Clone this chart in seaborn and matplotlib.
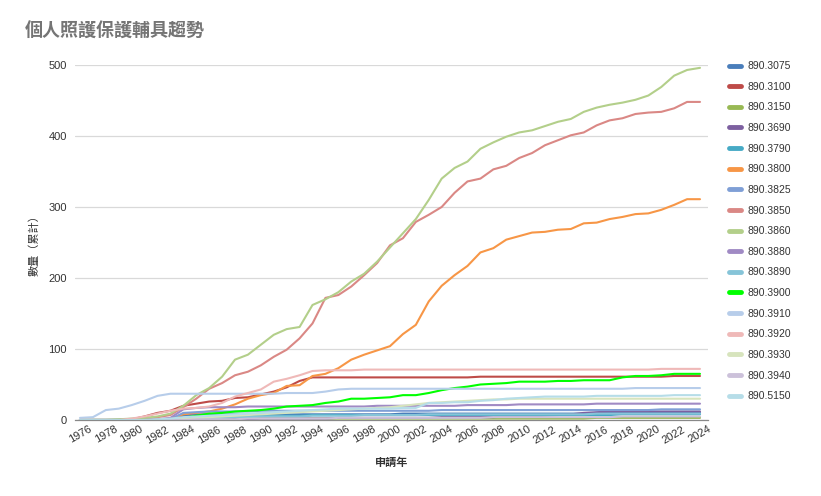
import numpy as np
import pandas as pd
import matplotlib
matplotlib.use("Agg")
import matplotlib.pyplot as plt
import seaborn as sns
from matplotlib.lines import Line2D

years = list(range(1976, 2025))

s3075 = [0,0,0,0,0,0,0,1,6,8, 8,8,8,8,8,8,8,8,8,8, 8,8,8,8,8,9,9,9,9,9, 9,9,9,9,9,9,9,9,9,9, 10,10,10,10,10,10,10,10,10]
s3100 = [0,0,0,0,1,5,10,13,20,23, 26,27,31,32,36,40,46,55,60,60, 60,60,60,60,60,60,60,60,60,60, 60,61,61,61,61,61,61,61,61,61, 61,61,61,61,61,61,62,62,62]
s3150 = [0,0,0,0,0,0,0,0,1,1, 1,1,2,2,2,2,2,2,2,2, 2,2,2,2,2,2,2,2,2,2, 2,2,2,2,2,2,2,2,2,2, 3,3,3,3,3,3,3,3,3]
s3690 = [0,0,0,0,0,0,0,0,0,1, 1,1,1,1,2,2,2,2,2,2, 3,3,3,3,3,3,3,3,4,4, 4,4,4,5,5,5,6,7,8,10, 11,12,12,12,12,12,12,12,12]
s3790 = [0,0,0,0,0,0,0,0,2,4, 5,5,6,6,6,6,6,6,7,7, 7,7,7,7,7,7,7,7,7,7, 7,7,7,7,7,7,7,7,7,7, 7,7,8,8,8,8,8,8,8]
s3800 = [0,0,0,0,0,0,0,2,8,10, 12,16,22,30,35,38,48,49,62,65, 73,85,92,98,104,121,134,167,189,204, 217,236,242,254,259,264,265,268,269,277, 278,283,286,290,291,296,303,311,311]
s3825 = [0,0,0,0,0,0,0,1,10,11, 12,12,12,12,13,13,13,13,13,13, 13,13,13,13,13,13,13,13,14,14, 14,14,14,14,14,14,14,14,14,14, 14,14,14,14,14,15,15,15,15]
s3850 = [0,0,0,0,1,2,4,7,18,30, 44,52,63,68,77,89,99,115,136,172, 176,188,204,221,246,256,279,289,300,320, 336,340,353,358,369,376,387,394,401,405, 415,422,425,431,433,434,439,448,448]
s3860 = [0,0,0,1,2,3,5,9,20,35, 45,61,85,92,106,120,128,131,162,170, 180,195,206,223,243,263,283,310,340,355, 364,382,391,399,405,408,414,420,424,434, 440,444,447,451,457,469,485,493,496]
s3880 = [0,0,0,0,0,0,1,3,15,17, 18,18,18,19,19,19,19,19,19,19, 19,19,19,20,20,20,20,20,20,20, 21,21,21,21,22,22,22,22,22,22, 23,23,23,23,23,23,23,23,23]
s3890 = [0,0,0,0,0,0,0,0,1,2, 3,3,4,4,5,5,5,5,6,6, 6,6,7,7,7,7,7,8,8,8, 8,8,8,8,8,8,8,8,8,8, 9,9,9,9,9,9,9,9,9]
s3900 = [0,0,0,0,0,0,0,1,3,6, 9,10,12,13,14,16,19,20,21,24, 26,30,30,31,32,35,35,38,42,45, 47,50,51,52,54,54,54,55,55,56, 56,56,60,62,62,63,65,65,65]
s3910 = [3,4,14,16,21,27,34,37,37,37, 37,37,37,37,37,37,38,38,38,40, 43,44,44,44,44,44,44,44,44,44, 44,44,44,44,44,44,44,44,44,44, 44,44,44,45,45,45,45,45,45]
s3920 = [0,0,0,0,2,5,9,13,16,17, 19,24,33,38,43,54,58,63,69,70, 70,70,71,71,71,71,71,71,71,71, 71,71,71,71,71,71,71,71,71,71, 71,71,71,71,71,72,72,72,72]
s3930 = [0,0,0,0,0,0,0,1,2,3, 4,5,6,7,8,9,10,11,12,13, 14,15,16,17,18,20,22,24,25,26, 27,28,29,29,30,30,30,30,30,30, 30,30,30,30,30,30,30,30,30]
s3940 = [0,0,0,0,0,0,0,0,0,1, 1,1,1,2,2,2,2,2,2,2, 3,3,3,3,3,3,3,3,3,3, 3,3,4,4,4,4,4,4,4,4, 4,4,5,5,5,5,5,5,5]
s5150 = [0,0,0,0,0,0,1,2,4,5, 6,7,8,9,10,11,12,13,14,15, 16,16,16,16,16,17,17,24,24,25, 25,27,28,30,31,32,33,33,33,33, 34,34,34,34,34,34,35,35,35]

series_names = ["890.3075","890.3100","890.3150","890.3690","890.3790","890.3800",
                "890.3825","890.3850","890.3860","890.3880","890.3890","890.3900",
                "890.3910","890.3920","890.3930","890.3940","890.5150"]
series_values = [s3075,s3100,s3150,s3690,s3790,s3800,s3825,s3850,s3860,s3880,
                 s3890,s3900,s3910,s3920,s3930,s3940,s5150]
colors = ["#4a7ebb","#be4b48","#98b954","#7d60a0","#46aac5","#f79646",
          "#7f9fd6","#da8885","#b3cf8a","#a08ac4","#86c4d8","#00ff00",
          "#b7cdea","#efb9b8","#d7e4bd","#ccc1da","#b6dde8"]

rows = []
for name, vals in zip(series_names, series_values):
    for y, v in zip(years, vals):
        rows.append({"year": y, "value": v, "series": name})
df = pd.DataFrame(rows)

sns.set_theme(style="white")
plt.rcParams['font.family'] = ['Liberation Sans', 'Noto Sans CJK TC', 'DejaVu Sans']

fig = plt.figure(figsize=(8.21, 4.96), dpi=100)
ax = fig.add_axes([75/821, 1-420/496, (708-75)/821, (420-65)/496])

palette = dict(zip(series_names, colors))
sns.lineplot(data=df, x="year", y="value", hue="series", hue_order=series_names,
             palette=palette, linewidth=1.5, ax=ax, legend=False)

ax.set_xlim(1976 - 5/12.92, 2024 + 8/12.92)
ax.set_ylim(0, 500)
ax.set_yticks([0, 100, 200, 300, 400, 500])
ax.set_xticks(list(range(1976, 2025, 2)))
ax.set_xticklabels([str(y) for y in range(1976, 2025, 2)], rotation=30, ha='center',
                   fontsize=8, color='#333333')
ax.tick_params(axis='y', labelsize=8, labelcolor='#333333', length=0, pad=6)
ax.tick_params(axis='x', length=0, pad=3)
ax.grid(axis='y', color='#d9d9d9', linewidth=0.9)
ax.grid(axis='x', visible=False)
for s in ['top', 'right', 'left']:
    ax.spines[s].set_visible(False)
ax.spines['bottom'].set_color('#888888')
ax.spines['bottom'].set_linewidth(0.9)
ax.set_axisbelow(True)

ax.set_xlabel("申請年", fontsize=8, fontweight='bold', color='#333333', labelpad=9)
ax.set_ylabel("數量（累計）", fontsize=8, color='#333333', labelpad=6)

fig.text(25/821, 1-32/496, "個人照護保護輔具趨勢", fontsize=13, color='#757575',
         va='center', ha='left', fontweight='bold')

handles = [Line2D([0], [0], color=c, linewidth=3.5) for c in colors]
fig.legend(handles, series_names, loc='upper left', bbox_to_anchor=(725/821, 1-57/496),
           frameon=False, fontsize=7.5, handlelength=1.1, handletextpad=0.7,
           labelspacing=1.02, labelcolor='#333333', borderaxespad=0)

fig.savefig("out.png", dpi=100)
